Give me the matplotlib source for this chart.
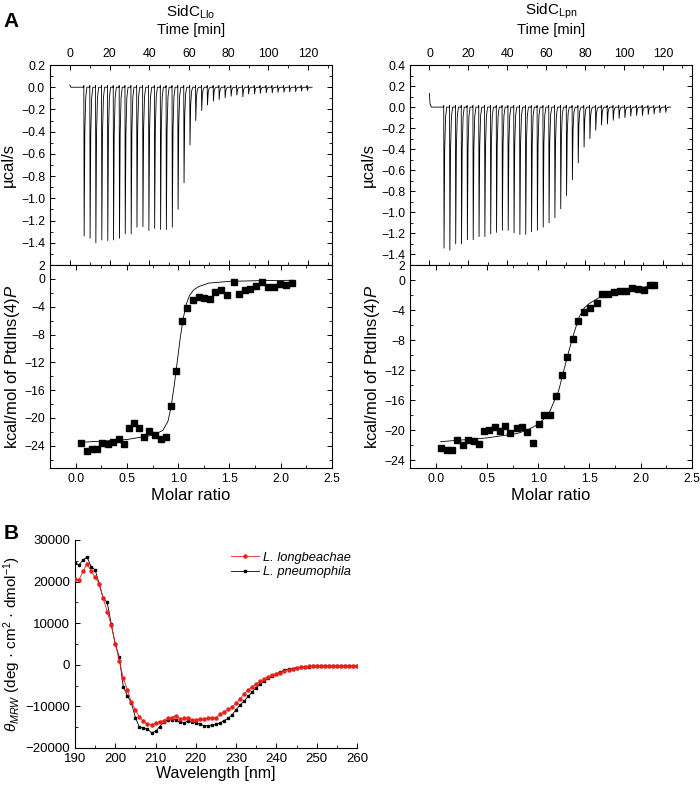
import numpy as np
import matplotlib
matplotlib.use("Agg")
import matplotlib.pyplot as plt
from matplotlib.ticker import MultipleLocator

plt.rcParams['font.family'] = ['Liberation Sans', 'DejaVu Sans']
plt.rcParams['mathtext.fontset'] = 'custom'
plt.rcParams['mathtext.rm'] = 'Liberation Sans'
plt.rcParams['mathtext.it'] = 'Liberation Sans:italic'
plt.rcParams['mathtext.bf'] = 'Liberation Sans:bold'

# ---- ITC raw data: injection times (min) and peak depths (ucal/s)
llo_inj_t = [7.1, 10.1, 13.0, 16.0, 19.0, 21.9, 24.9, 27.8, 30.8, 33.7, 36.7, 39.7, 42.6,
             45.6, 48.5, 51.5, 54.4, 57.4, 60.4, 63.3, 66.3, 69.2, 72.2, 75.1, 78.1, 81.1,
             84.0, 87.0, 89.9, 92.9, 95.8, 98.8, 101.8, 104.7, 107.7, 110.6, 113.6, 116.5, 119.5]
llo_peak = [-1.34, -1.36, -1.40, -1.375, -1.38, -1.375, -1.36, -1.32, -1.32, -1.26, -1.255,
            -1.29, -1.27, -1.28, -1.28, -1.26, -1.10, -0.86, -0.52, -0.30, -0.21, -0.16,
            -0.125, -0.11, -0.095, -0.08, -0.07, -0.085, -0.06, -0.06, -0.055, -0.05, -0.05,
            -0.045, -0.045, -0.04, -0.04, -0.035, -0.03]

lpn_inj_t = [7.4, 10.4, 13.4, 16.4, 19.4, 22.4, 25.4, 28.4, 31.4, 34.4, 37.4, 40.4, 43.4,
             46.4, 49.4, 52.4, 55.4, 58.4, 61.4, 64.4, 67.4, 70.4, 73.4, 76.4, 79.4, 82.4,
             85.4, 88.4, 91.4, 94.4, 97.4, 100.4, 103.4, 106.4, 109.4, 112.4, 115.4, 118.4, 121.4]
lpn_peak = [-1.34, -1.36, -1.30, -1.30, -1.26, -1.26, -1.23, -1.23, -1.205, -1.19, -1.17,
            -1.17, -1.195, -1.21, -1.21, -1.185, -1.17, -1.14, -1.10, -1.05, -0.965, -0.84,
            -0.69, -0.53, -0.38, -0.30, -0.22, -0.17, -0.16, -0.125, -0.107, -0.10, -0.085,
            -0.08, -0.08, -0.07, -0.065, -0.054, -0.05]

# ---- integrated heats (kcal/mol) vs molar ratio
llo_ratio = [0.055, 0.107, 0.16, 0.21, 0.26, 0.315, 0.367, 0.42, 0.47, 0.52, 0.57, 0.62, 0.67,
             0.72, 0.776, 0.83, 0.88, 0.93, 0.98, 1.036, 1.09, 1.146, 1.2, 1.25, 1.31, 1.36,
             1.42, 1.48, 1.54, 1.59, 1.65, 1.70, 1.76, 1.82, 1.88, 1.93, 1.99, 2.05, 2.11]
llo_heat = [-23.6, -24.7, -24.5, -24.5, -23.6, -23.8, -23.5, -23.1, -23.8, -21.4, -20.7, -21.5,
            -22.7, -21.9, -22.5, -23.1, -22.8, -18.3, -13.2, -6.0, -4.2, -3.0, -2.6, -2.8, -2.9,
            -1.9, -1.6, -2.3, -0.4, -2.2, -1.6, -1.5, -1.0, -0.4, -1.2, -1.2, -0.7, -0.9, -0.6]
llo_fit_x = [0.05, 0.3, 0.5, 0.75, 0.85, 0.9, 0.93, 0.96, 0.99, 1.02, 1.05, 1.08, 1.11, 1.15,
             1.2, 1.3, 1.5, 1.8, 2.12]
llo_fit_y = [-23.5, -23.3, -23.1, -22.5, -21.8, -20.5, -18.5, -15.5, -12.0, -8.5, -5.6, -3.6,
             -2.4, -1.6, -1.1, -0.6, -0.35, -0.25, -0.2]

lpn_ratio = [0.056, 0.11, 0.16, 0.21, 0.27, 0.32, 0.37, 0.42, 0.47, 0.52, 0.575, 0.63, 0.68,
             0.73, 0.79, 0.84, 0.895, 0.95, 1.01, 1.06, 1.12, 1.17, 1.23, 1.28, 1.34, 1.39,
             1.45, 1.51, 1.57, 1.62, 1.68, 1.74, 1.80, 1.86, 1.91, 1.97, 2.03, 2.09, 2.13]
lpn_heat = [-22.3, -22.6, -22.6, -21.3, -21.9, -21.3, -21.4, -21.8, -20.1, -20.0, -19.6, -20.1,
            -19.4, -20.4, -19.7, -19.5, -20.2, -21.7, -19.1, -17.9, -17.9, -15.4, -12.6, -10.3,
            -7.8, -5.4, -4.2, -3.7, -3.1, -1.9, -1.8, -1.6, -1.4, -1.5, -1.0, -1.2, -1.3, -0.6, -0.6]
lpn_fit_x = [0.05, 0.5, 0.8, 0.9, 1.0, 1.1, 1.15, 1.2, 1.25, 1.3, 1.35, 1.4, 1.45, 1.5, 1.6,
             1.7, 1.8, 1.9, 2.0, 2.12]
lpn_fit_y = [-21.5, -21.0, -20.4, -19.9, -19.2, -17.9, -16.3, -14.7, -12.0, -9.4, -7.0, -4.9,
             -3.7, -3.1, -2.3, -1.8, -1.5, -1.2, -1.0, -0.75]

# ---- CD spectra
wavelength = list(range(190, 261))
cd_llo = [20500, 20400, 22500, 24300, 22500, 21000, 19500, 16000, 12800, 9500, 5000, 1000,
          -3300, -6000, -9000, -10800, -12600, -13600, -14300, -14400, -14000, -13700, -13400,
          -12800, -12700, -12200, -13000, -12900, -12700, -13200, -13300, -13000, -13100,
          -12800, -12700, -12700, -11900, -11300, -10700, -10100, -9300, -8200, -7000, -6000,
          -5300, -4600, -4000, -3400, -2900, -2500, -2200, -1900, -1500, -1200, -1000, -800,
          -600, -500, -400, -350, -300, -300, -300, -300, -250, -200, -300, -350, -300, -300, -250]
cd_lpn = [24500, 24000, 25200, 25900, 23600, 22800, 19500, 16000, 15000, 9800, 5000, 1800,
          -5300, -7400, -9200, -12700, -15000, -15200, -15500, -16300, -16000, -14900, -13800,
          -13300, -13200, -13200, -13800, -14000, -13500, -13800, -14000, -14300, -14600,
          -14600, -14500, -14300, -14000, -13400, -12900, -12000, -10800, -9600, -8700, -7600,
          -6500, -5500, -4700, -3800, -3100, -2600, -2200, -1700, -1300, -1000, -900, -700,
          -600, -500, -600, -400, -300, -300, -300, -300, -300, -250, -300, -300, -300, -300, -300]


def itc_trace(inj_t, inj_d, t_end, start_t, start_y):
    tt = list(start_t)
    yy = list(start_y)
    for t, d in zip(inj_t, inj_d):
        tt += [t - 0.15, t - 0.05, t + 0.1, t + 0.45, t + 0.9, t + 1.5]
        yy += [0.0, 0.015, d, 0.3 * d, 0.07 * d, 0.0]
    tt.append(t_end)
    yy.append(0.0)
    return tt, yy


def style_axes(ax):
    ax.tick_params(which='both', direction='in', top=True, right=True, labelsize=8.8)
    ax.tick_params(which='major', length=3.5, width=0.7)
    ax.tick_params(which='minor', length=2, width=0.6)
    for s in ax.spines.values():
        s.set_linewidth(0.8)


fig = plt.figure(figsize=(7, 7.88), dpi=100)

panels = [
    (0.0714, 'Llo', llo_inj_t, llo_peak, 122, [0, 0.5], [0.02, 0.0],
     llo_ratio, llo_heat, llo_fit_x, llo_fit_y, (-27.2, 2), (-10, 132)),
    (0.5857, 'Lpn', lpn_inj_t, lpn_peak, 124, [0, 0.3, 1.0], [0.13, 0.03, 0.0],
     lpn_ratio, lpn_heat, lpn_fit_x, lpn_fit_y, (-25.0, 2), (-10, 135)),
]

for (x0, name, inj_t, peak, t_end, st, sy, ratio, heat, fx, fy, ylim_bot,
     tlim) in panels:
    ax_top = fig.add_axes([x0, 0.6637, 0.4029, 0.2538])
    ax_bot = fig.add_axes([x0, 0.4061, 0.4029, 0.2576])

    tt, yy = itc_trace(inj_t, peak, t_end, st, sy)
    ax_top.plot(tt, yy, color='black', lw=0.6)
    if name == 'Llo':
        ax_top.set_ylim(-1.6, 0.2)
        ax_top.set_yticks(np.round(np.arange(-1.4, 0.21, 0.2), 1))
    else:
        ax_top.set_ylim(-1.5, 0.4)
        ax_top.set_yticks(np.round(np.arange(-1.4, 0.41, 0.2), 1))
    ax_top.set_xlim(*tlim)
    ax_top.xaxis.set_major_locator(MultipleLocator(20))
    ax_top.xaxis.set_minor_locator(MultipleLocator(10))
    ax_top.yaxis.set_minor_locator(MultipleLocator(0.1))
    style_axes(ax_top)
    ax_top.tick_params(labeltop=True, labelbottom=False)
    ax_top.set_ylabel('µcal/s', fontsize=12, labelpad=4)

    xc = x0 + 0.4029 / 2
    fig.text(xc, 0.985, 'SidC$_{\\mathrm{%s}}$' % name, fontsize=11, ha='center', va='center')
    fig.text(xc, 0.962, 'Time [min]', fontsize=10.5, ha='center', va='center')

    ax_bot.plot(fx, fy, color='black', lw=0.6)
    ax_bot.plot(ratio, heat, 's', color='black', ms=4.5)
    ax_bot.set_xlim(-0.25, 2.5)
    ax_bot.set_ylim(*ylim_bot)
    ax_bot.set_yticks([2, 0, -4, -8, -12, -16, -20, -24])
    ax_bot.xaxis.set_minor_locator(MultipleLocator(0.25))
    ax_bot.yaxis.set_minor_locator(MultipleLocator(2))
    ax_bot.set_xticks([0.0, 0.5, 1.0, 1.5, 2.0, 2.5])
    ax_bot.set_xticklabels(['0.0', '0.5', '1.0', '1.5', '2.0', '2.5'])
    style_axes(ax_bot)
    ax_bot.set_xlabel('Molar ratio', fontsize=12, labelpad=2)
    ax_bot.set_ylabel('kcal/mol of PtdIns(4)$\\it{P}$', fontsize=12, labelpad=2)

# ---- CD panel
ax_cd = fig.add_axes([0.1071, 0.0508, 0.4029, 0.264])
ax_cd.plot(wavelength, cd_llo, '-o', color='#e8211d', lw=0.6, ms=2.2,
           label='L. longbeachae', zorder=3)
ax_cd.plot(wavelength, cd_lpn, '-s', color='black', lw=0.6, ms=2.0,
           label='L. pneumophila', zorder=2)
ax_cd.set_xlim(190, 260)
ax_cd.set_ylim(-20000, 30000)
ax_cd.xaxis.set_major_locator(MultipleLocator(10))
ax_cd.xaxis.set_minor_locator(MultipleLocator(5))
ax_cd.yaxis.set_major_locator(MultipleLocator(10000))
ax_cd.yaxis.set_minor_locator(MultipleLocator(5000))
ax_cd.spines['top'].set_visible(False)
ax_cd.spines['right'].set_visible(False)
ax_cd.tick_params(which='both', direction='in', labelsize=9.5)
ax_cd.tick_params(which='major', length=3.5, width=0.7)
ax_cd.tick_params(which='minor', length=2, width=0.6)
ax_cd.set_xlabel('Wavelength [nm]', fontsize=11.5, labelpad=1)
ax_cd.set_ylabel('$\\theta_{\\it{MRW}}$ (deg · cm$^2$ · dmol$^{-1}$)', fontsize=11, labelpad=2)
leg = ax_cd.legend(loc='upper right', bbox_to_anchor=(1.02, 1.0), frameon=False,
                   prop={'style': 'italic', 'size': 9.3}, handlelength=2.2,
                   handletextpad=0.3, labelspacing=0.2)

fig.text(0.005, 0.985, 'A', fontsize=15, fontweight='bold', va='top')
fig.text(0.005, 0.335, 'B', fontsize=15, fontweight='bold', va='top')

fig.savefig('out.png', dpi=100)
